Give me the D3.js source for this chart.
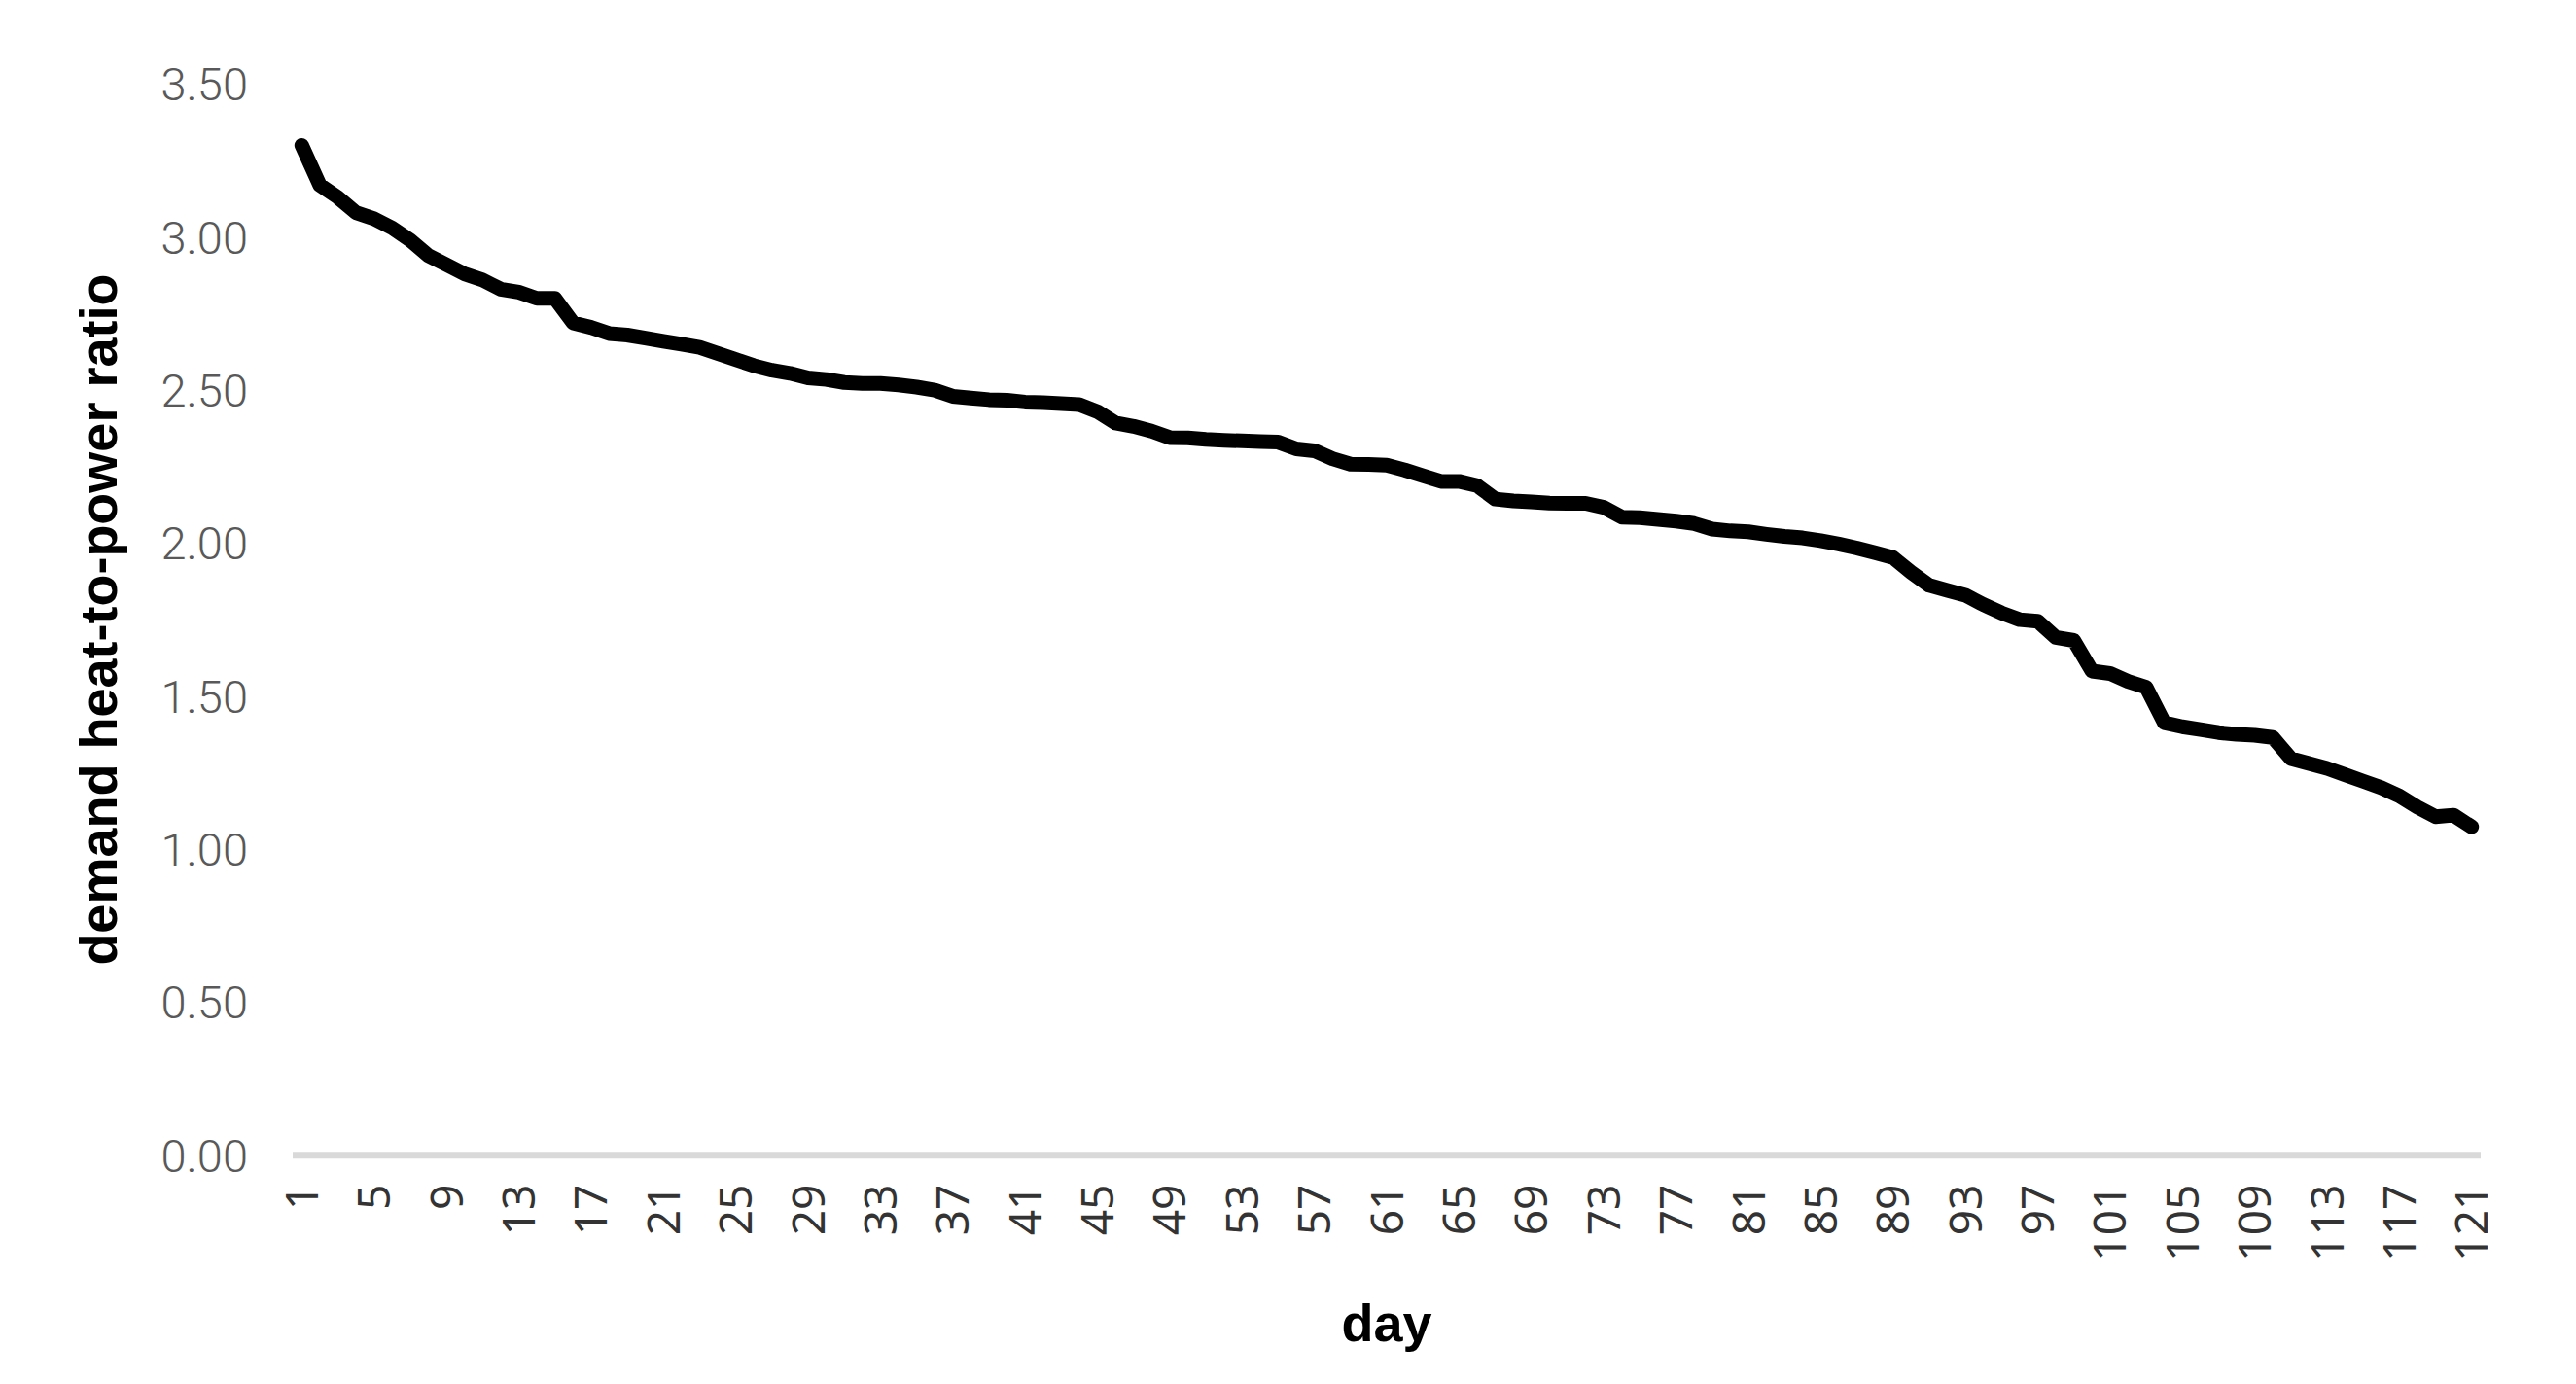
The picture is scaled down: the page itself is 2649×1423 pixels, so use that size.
<!DOCTYPE html>
<html>
<head>
<meta charset="utf-8">
<script src="https://cdn.jsdelivr.net/npm/d3@7"></script>
<style>
    body { margin: 0; background: #fff; }
    .ytick text { font-family: Roboto, "Liberation Sans", sans-serif; font-weight: 300; font-size: 47px; fill: #595959; }
    .xtick text { font-family: "Noto Sans", "Liberation Sans", sans-serif; font-size: 46px; fill: #333; }
    .title { font-family: "Liberation Sans", Arial, sans-serif; font-weight: bold; font-size: 54px; fill: #000; }
</style>
</head>
<body>
<svg id="chart"></svg>
<script>
// demand heat-to-power ratio, one value per day
var ratio = [
    3.30, 3.17, 3.13, 3.08, 3.06, 3.03, 2.99, 2.94, 2.91, 2.88,
    2.86, 2.83, 2.82, 2.80, 2.80, 2.72, 2.705, 2.685, 2.68, 2.67,
    2.66, 2.65, 2.64, 2.62, 2.60, 2.58, 2.565, 2.555, 2.54, 2.535,
    2.525, 2.522, 2.522, 2.517, 2.51, 2.50, 2.48, 2.474, 2.469, 2.467,
    2.461, 2.459, 2.456, 2.453, 2.43, 2.393, 2.382, 2.366, 2.345, 2.344,
    2.339, 2.336, 2.334, 2.332, 2.33, 2.308, 2.302, 2.276, 2.258, 2.257,
    2.255, 2.239, 2.22, 2.202, 2.202, 2.188, 2.144, 2.138, 2.135, 2.131,
    2.13, 2.13, 2.117, 2.085, 2.083, 2.078, 2.072, 2.064, 2.046, 2.04,
    2.037, 2.029, 2.022, 2.017, 2.008, 1.997, 1.984, 1.969, 1.953, 1.905,
    1.862, 1.846, 1.83, 1.799, 1.772, 1.75, 1.745, 1.692, 1.682, 1.582,
    1.574, 1.548, 1.529, 1.413, 1.40, 1.391, 1.381, 1.375, 1.372, 1.365,
    1.296, 1.28, 1.264, 1.243, 1.222, 1.201, 1.174, 1.137, 1.106, 1.111,
    1.073
];
var days = d3.range(1, ratio.length + 1);
var xTickDays = [1, 5, 9, 13, 17, 21, 25, 29, 33, 37, 41, 45, 49, 53, 57, 61,
    65, 69, 73, 77, 81, 85, 89, 93, 97, 101, 105, 109, 113, 117, 121];
var yTicks = [0, 0.5, 1, 1.5, 2, 2.5, 3, 3.5];

var totalWidth = 2649;
var totalHeight = 1423;

var svg = d3.select("#chart")
    .attr("width", totalWidth)
    .attr("height", totalHeight);

var x = d3.scalePoint().domain(days).range([301, 2551]).padding(0.5);
var y = d3.scaleLinear().domain([0, 3.5]).range([1187.7, 86.5]);

// y axis: labels only
var gy = svg.append("g")
    .attr("class", "ytick")
    .attr("transform", "translate(301,0)")
    .call(d3.axisLeft(y).tickValues(yTicks).tickFormat(d3.format(".2f")).tickSize(0).tickPadding(46));
gy.select(".domain").remove();
gy.selectAll("text").attr("dy", "0.35em");

// x axis: light baseline + rotated labels
svg.append("line")
    .attr("x1", 301)
    .attr("x2", 2551)
    .attr("y1", y(0))
    .attr("y2", y(0))
    .attr("stroke", "#d9d9d9")
    .attr("stroke-width", 7);

var gx = svg.append("g")
    .attr("class", "xtick")
    .attr("transform", "translate(0," + y(0) + ")")
    .call(d3.axisBottom(x).tickValues(xTickDays).tickSize(0).tickPadding(0));
gx.select(".domain").remove();
gx.selectAll("text")
    .attr("transform", "rotate(-90)")
    .attr("text-anchor", "end")
    .attr("x", -30)
    .attr("y", 0)
    .attr("dy", "0.35em");

var line = d3.line()
    .x(function (d, i) { return x(days[i]) })
    .y(function (d) { return y(d) });

svg.append("path")
    .datum(ratio)
    .attr("d", line)
    .attr("fill", "none")
    .attr("stroke", "#000")
    .attr("stroke-width", 15)
    .attr("stroke-linejoin", "round")
    .attr("stroke-linecap", "round");

svg.append("text")
    .attr("class", "title")
    .attr("text-anchor", "middle")
    .attr("transform", "translate(120," + (y(0) + y(3.5)) / 2 + ") rotate(-90)")
    .text("demand heat-to-power ratio");

svg.append("text")
    .attr("class", "title")
    .attr("text-anchor", "middle")
    .attr("x", 1426)
    .attr("y", 1379)
    .text("day");
</script>
</body>
</html>
